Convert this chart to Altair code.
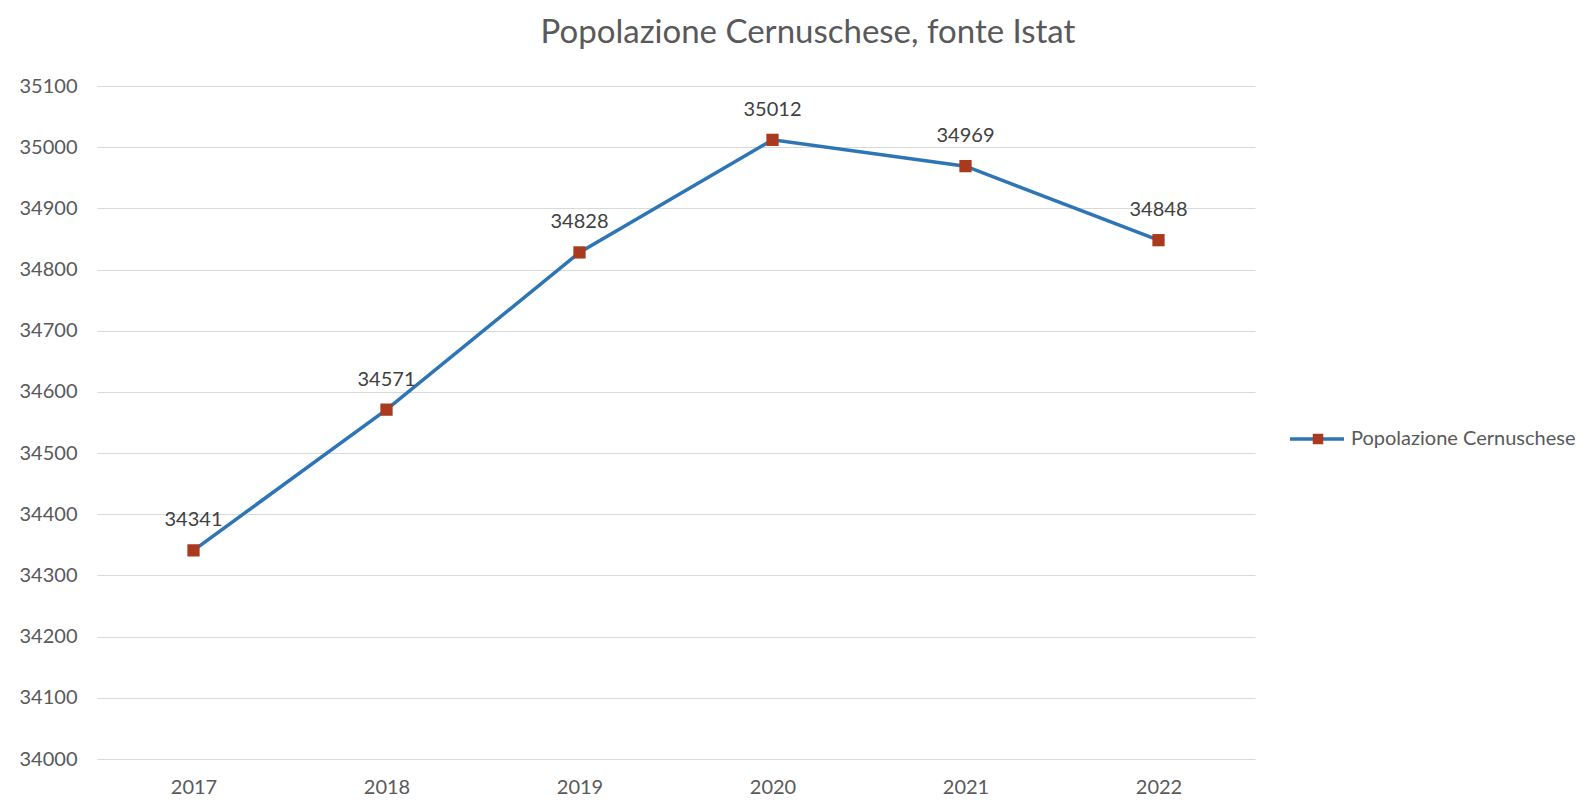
import altair as alt
import pandas as pd

years = ["2017", "2018", "2019", "2020", "2021", "2022"]
population = [34341, 34571, 34828, 35012, 34969, 34848]
series_name = ["Popolazione Cernuschese"] * 6
y_ticks = [34000, 34100, 34200, 34300, 34400, 34500, 34600, 34700, 34800, 34900, 35000, 35100]

df = pd.DataFrame({"anno": years, "popolazione": population, "serie": series_name})

FONT = "Lato"
GREY = "#595959"
LINE_C = "#2E75B6"
MARK_C = "#A93A1E"

x = alt.X("anno:O", scale=alt.Scale(type="point", padding=0.5),
          axis=alt.Axis(title=None, labelAngle=0, domain=False, ticks=False,
                        labelPadding=18, labelFontSize=20, labelColor=GREY, labelFont=FONT))
y = alt.Y("popolazione:Q", scale=alt.Scale(domain=[34000, 35100], nice=False, zero=False),
          axis=alt.Axis(title=None, values=y_ticks, domain=False, ticks=False, format="d",
                        labelPadding=20, labelFontSize=20, labelColor=GREY, labelFont=FONT,
                        grid=True, gridColor="#D9D9D9", gridWidth=1.2))

line = alt.Chart(df).mark_line(strokeWidth=3.5).encode(
    x=x, y=y,
    color=alt.Color("serie:N", scale=alt.Scale(range=[LINE_C]),
                    legend=alt.Legend(title=None, orient="none", legendX=1191, legendY=324,
                                      symbolType="stroke", symbolSize=2916, symbolStrokeWidth=3.5,
                                      labelFont=FONT, labelFontSize=20, labelColor=GREY,
                                      labelOffset=5, labelLimit=400, padding=0))
)

points = alt.Chart(df).mark_point(shape="square", filled=True, size=150, opacity=1).encode(
    x=x, y=y,
    fill=alt.Fill("serie:N", scale=alt.Scale(range=[MARK_C]),
                  legend=alt.Legend(title=None, orient="none", legendX=1211, legendY=343,
                                    symbolType="square", symbolSize=110, symbolStrokeWidth=0,
                                    labelExpr="''", labelFontSize=20, padding=0))
)

labels = alt.Chart(df).mark_text(dy=-30, fontSize=20, font=FONT, color="#404040").encode(
    x=x, y=y, text=alt.Text("popolazione:Q", format="d")
)

chart = alt.layer(line, points, labels).properties(
    width=1158, height=673,
    title=alt.Title("Popolazione Cernuschese, fonte Istat", fontSize=33, font=FONT,
                    fontWeight="normal", color=GREY, anchor="middle", offset=26, dx=132),
    autosize=alt.AutoSizeParams(type="none"),
    padding={"left": 89, "top": 78, "right": 330, "bottom": 40},
    background="white",
).configure_view(stroke=None)

chart.save("out.html", embed_options={"renderer": "svg", "actions": False})
